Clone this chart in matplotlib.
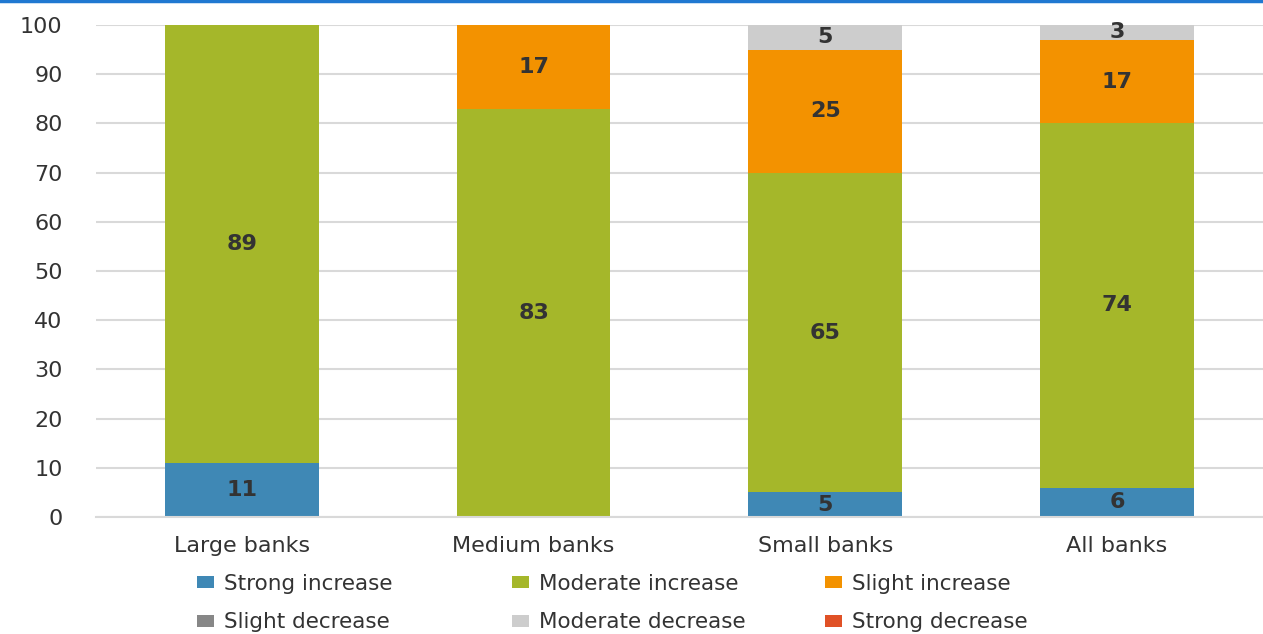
import numpy as np
import matplotlib.pyplot as plt
from matplotlib.patches import Patch
from matplotlib.lines import Line2D

plt.rcParams['font.family'] = ['DejaVu Sans']

categories = ['Large banks', 'Medium banks', 'Small banks', 'All banks']
series_names = ['Strong increase', 'Moderate increase', 'Slight increase',
                'Slight decrease', 'Moderate decrease', 'Strong decrease']
strong_inc = [11, 0, 5, 6]
moderate_inc = [89, 83, 65, 74]
slight_inc = [0, 17, 25, 17]
slight_dec = [0, 0, 0, 0]
moderate_dec = [0, 0, 5, 3]
strong_dec = [0, 0, 0, 0]

colors = ['#3F88B5', '#A5B72A', '#F39200', '#878787', '#CDCDCD', '#E05126']
series = [strong_inc, moderate_inc, slight_inc, slight_dec, moderate_dec, strong_dec]

W, H = 1263, 634
fig = plt.figure(figsize=(W / 100, H / 100), dpi=100)
ax = fig.add_axes([0.076, 0.1845, 0.924, 0.7761])

x = np.arange(len(categories))
bottom = np.zeros(len(categories))
for vals, col in zip(series, colors):
    vals = np.array(vals, dtype=float)
    ax.bar(x, vals, 0.527, bottom=bottom, color=col, zorder=2)
    for xi, v, b in zip(x, vals, bottom):
        if v > 0:
            ax.text(xi, b + v / 2, f'{v:.0f}', ha='center', va='center',
                    fontsize=16, fontweight='bold', color='#333333', zorder=3)
    bottom += vals

ax.set_xlim(-0.5, 3.5)
ax.set_ylim(0, 100)
ax.set_yticks(range(0, 101, 10))
ax.yaxis.grid(True, color='#D9D9D9', linewidth=1.5, zorder=0)
ax.set_axisbelow(True)
for s in ['top', 'right', 'left']:
    ax.spines[s].set_visible(False)
ax.spines['bottom'].set_color('#D9D9D9')
ax.spines['bottom'].set_linewidth(1.5)
ax.tick_params(axis='y', length=0, pad=24, labelsize=16, labelcolor='#333333')
ax.tick_params(axis='x', length=0, pad=14, labelsize=16, labelcolor='#333333')
ax.set_xticks(x)
ax.set_xticklabels(categories)

# one legend per column so the columns sit on an even grid
col_x = [197, 512, 825]
for c, px in enumerate(col_x):
    idx = [c, c + 3]
    handles = [Patch(facecolor=colors[i], edgecolor='none') for i in idx]
    leg = fig.legend(handles, [series_names[i] for i in idx], ncol=1,
                     loc='upper left', bbox_to_anchor=(px / W, 1 - 574 / H),
                     frameon=False, fontsize=15.5, labelcolor='#333333',
                     handlelength=0.8, handleheight=0.5, handletextpad=0.45,
                     labelspacing=0.85, borderpad=0, borderaxespad=0)

# thin rule along the top edge
fig.add_artist(Line2D([0, 1], [0.998, 0.998], transform=fig.transFigure,
                      color='#1F78D1', linewidth=2.5))

fig.savefig('out.png', dpi=100)
